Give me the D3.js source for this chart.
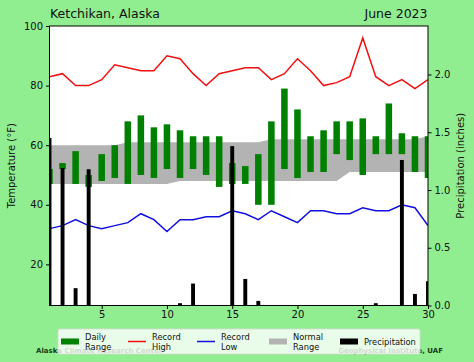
<!DOCTYPE html>
<html><head><meta charset="utf-8">
<script src="https://cdn.jsdelivr.net/npm/d3@7"></script>
<style>body{margin:0;background:#90ee90;} svg{display:block;font-family:"DejaVu Sans",sans-serif;}</style>
</head><body>
<svg id="c" width="474" height="362"></svg>
<script>
const days = d3.range(1, 31);
const recordHigh = [83,84,80,80,82,87,86,85,85,90,89,84,80,84,85,86,86,82,84,89,85,80,81,83,96,83,80,82,79,82];
const recordLow  = [32,33,35,33,32,33,34,37,35,31,35,35,36,36,38,37,35,38,36,34,38,38,37,37,39,38,38,40,39,33];
const dailyHigh  = [52,54,58,50,57,60,68,70,66,67,65,63,63,63,54,53,57,68,79,72,63,65,68,68,69,63,74,64,63,63];
const dailyLow   = [47,52,47,46,48,49,47,50,49,52,49,52,50,46,47,47,40,40,52,49,51,51,57,55,50,57,57,57,51,49];
const normalHigh = [60,60,60,60,60,60,61,61,61,61,61,61,61,61,61,61,61,62,62,62,62,62,62,62,62,62,62,62,62,63];
const normalLow  = [47,47,47,47,47,47,47,47,47,47,48,48,48,48,48,48,48,48,48,48,48,48,48,51,51,51,51,51,51,51];
const precip     = [1.45,1.19,0.15,1.18,0,0,0,0,0,0,0.02,0.19,0,0,1.38,0.23,0.04,0,0,0,0,0,0,0,0,0.02,0,1.26,0.10,0.21];
const tempTicks = [20,40,60,80,100];
const precipTicks = [0,0.5,1.0,1.5,2.0];
const dayTicks = [5,10,15,20,25,30];

const svg = d3.select("#c");
const L = 49.5, R = 428, T = 26, B = 305.5;
const x = d3.scaleLinear().domain([1,30]).range([L,R]);
const yT = d3.scaleLinear().domain([6.2,100]).range([B,T]);
const yP = d3.scaleLinear().domain([0,2.42]).range([B,T]);

svg.append("defs").append("clipPath").attr("id","clip")
  .append("rect").attr("x",L).attr("y",T).attr("width",R-L).attr("height",B-T);

svg.append("rect").attr("x",L).attr("y",T).attr("width",R-L).attr("height",B-T).attr("fill","#fff");

const g = svg.append("g").attr("clip-path","url(#clip)");
// normal range
g.append("path")
  .datum(days.map((d,i)=>({d, lo: normalLow[i], hi: normalHigh[i]})))
  .attr("fill","#b3b3b3")
  .attr("d", d3.area().x(p=>x(p.d)).y0(p=>yT(p.lo)).y1(p=>yT(p.hi)));
// daily range
const bw = x(1.5)-x(1);
g.selectAll(".dr").data(days).join("rect")
  .attr("x", d=>x(d)-bw/2).attr("width", bw)
  .attr("y", (d,i)=>yT(dailyHigh[i])).attr("height",(d,i)=>yT(dailyLow[i])-yT(dailyHigh[i]))
  .attr("fill","#008000");
// record lines
g.append("path").datum(recordHigh).attr("fill","none").attr("stroke","#f01010").attr("stroke-width",1.5)
  .attr("d", d3.line().x((v,i)=>x(days[i])).y(v=>yT(v)));
g.append("path").datum(recordLow).attr("fill","none").attr("stroke","#1010e0").attr("stroke-width",1.5)
  .attr("d", d3.line().x((v,i)=>x(days[i])).y(v=>yT(v)));
// precipitation
const pw = x(1.3)-x(1);
g.selectAll(".pr").data(days).join("rect")
  .attr("x", d=>x(d)-pw/2).attr("width", pw)
  .attr("y", (d,i)=>yP(precip[i])).attr("height",(d,i)=>B-yP(precip[i]))
  .attr("fill","#000");

// frame
svg.append("rect").attr("x",L).attr("y",T).attr("width",R-L).attr("height",B-T)
  .attr("fill","none").attr("stroke","#000").attr("stroke-width",1);

// axes
const axL = svg.append("g").attr("transform",`translate(${L},0)`)
  .call(d3.axisLeft(yT).tickValues(tempTicks).tickSize(3.5).tickPadding(3));
const axR = svg.append("g").attr("transform",`translate(${R},0)`)
  .call(d3.axisRight(yP).tickValues(precipTicks).tickSize(3.5).tickPadding(3).tickFormat(d3.format(".1f")));
const axB = svg.append("g").attr("transform",`translate(0,${B})`)
  .call(d3.axisBottom(x).tickValues(dayTicks).tickSize(3.5).tickPadding(2));
[axL,axR,axB].forEach(a=>{
  a.select(".domain").remove();
  a.selectAll("text").attr("font-size",10).attr("font-family","DejaVu Sans").attr("fill","#111");
  a.selectAll("line").attr("stroke","#000");
});

// titles
svg.append("text").attr("x",50).attr("y",18).attr("font-size",12.5).attr("fill","#111").text("Ketchikan, Alaska");
svg.append("text").attr("x",427.5).attr("y",18).attr("font-size",12.5).attr("text-anchor","end").attr("fill","#111").text("June 2023");
svg.append("text").attr("transform",`translate(14.5,${(T+B)/2}) rotate(-90)`).attr("text-anchor","middle")
  .attr("font-size",10).attr("fill","#111").text("Temperature (°F)");
svg.append("text").attr("transform",`translate(464,${(T+B)/2}) rotate(-90)`).attr("text-anchor","middle")
  .attr("font-size",10).attr("fill","#111").text("Precipitation (inches)");

// footer (partly hidden behind the legend, as in the reference)
svg.append("text").attr("x",36).attr("y",352.5).attr("font-size",7).attr("font-weight","bold").attr("fill","#1a3a1a").text("Alaska Climate Research Center");
svg.append("text").attr("x",443).attr("y",352.5).attr("font-size",7).attr("font-weight","bold").attr("text-anchor","end").attr("fill","#1a3a1a").text("Geophysical Institute, UAF");

// legend
const lg = svg.append("g");
lg.append("rect").attr("x",58).attr("y",329).attr("width",362).attr("height",25).attr("rx",2)
  .attr("fill","#fff").attr("fill-opacity",0.8).attr("stroke","#d8d8d8").attr("stroke-width",0.8);
const items = [
  {type:"patch", color:"#008000", lines:["Daily","Range"], x:61},
  {type:"line", color:"#f01010", lines:["Record","High"], x:128},
  {type:"line", color:"#1010e0", lines:["Record","Low"], x:197},
  {type:"patch", color:"#b3b3b3", lines:["Normal","Range"], x:269},
  {type:"patch", color:"#000", lines:["Precipitation"], x:340}
];
items.forEach(it=>{
  if(it.type==="patch") lg.append("rect").attr("x",it.x).attr("y",338.5).attr("width",18).attr("height",6).attr("fill",it.color);
  else lg.append("line").attr("x1",it.x).attr("x2",it.x+18).attr("y1",341.5).attr("y2",341.5).attr("stroke",it.color).attr("stroke-width",1.5);
  const tx = it.x + 24;
  if(it.lines.length===2){
    lg.append("text").attr("x",tx).attr("y",339.5).attr("font-size",8.3).attr("fill","#111").text(it.lines[0]);
    lg.append("text").attr("x",tx).attr("y",349.5).attr("font-size",8.3).attr("fill","#111").text(it.lines[1]);
  } else {
    lg.append("text").attr("x",tx).attr("y",344.5).attr("font-size",8.3).attr("fill","#111").text(it.lines[0]);
  }
});
</script>
</body></html>
